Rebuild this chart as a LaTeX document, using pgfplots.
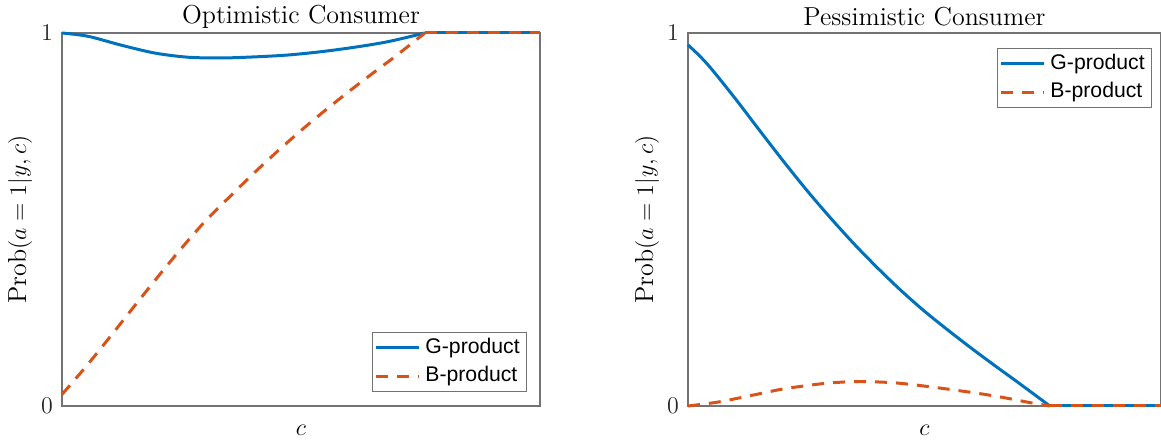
\documentclass[border=0pt]{standalone}
\usepackage{fontspec}
\usepackage{pgfplots}
\pgfplotsset{compat=1.18}
\newfontfamily\legendfont{Liberation Sans}
\definecolor{mblue}{rgb}{0,0.447,0.741}
\definecolor{morange}{rgb}{0.85,0.325,0.098}
\pgfplotsset{
  mystyle/.style={
    scale only axis,
    height=186.5pt,
    xmin=0, xmax=1, ymin=0, ymax=1,
    xtick=\empty, ytick={0,1},
    major tick length=0pt,
    clip=false,
    axis line style={black!55, line width=0.6pt},
    tick label style={font=\fontsize{12.5}{14}\selectfont, text=black!85},
    yticklabel style={xshift=-1pt},
    title style={at={(axis description cs:0.5,1)}, anchor=center, yshift=2pt, font=\fontsize{13}{15}\selectfont},
    xlabel style={at={(axis description cs:0.5,0)}, anchor=center, yshift=-12pt, font=\fontsize{13}{15}\selectfont},
    ylabel style={font=\fontsize{13}{15}\selectfont, anchor=center},
    xlabel={$c$},
    ylabel={$\mathrm{Prob}(a=1|y,c)$},
    legend cell align=left,
    legend image code/.code={\draw[#1] (1pt,0pt) -- (22.5pt,0pt);},
    legend style={
      font=\legendfont\fontsize{10.6}{12.5}\selectfont,
      draw=black!55, line width=0.5pt,
      inner xsep=1pt, inner ysep=0.5pt,
      nodes={inner xsep=2.4pt, inner ysep=1.5pt, text height=8.5pt, text depth=2.75pt},
      row sep=0pt,
    },
  },
  gline/.style={mblue, line width=1.5pt},
  bline/.style={morange, line width=1.5pt, dash pattern=on 6pt off 4.5pt},
}
\begin{document}
\begin{tikzpicture}
\path[use as bounding box] (0,0) rectangle (580.5pt,221pt);
% Left panel
\begin{axis}[mystyle,
  at={(31pt,18pt)}, anchor=south west, width=239pt,
  title={Optimistic Consumer},
  ylabel style={at={([xshift=-21pt]axis description cs:0,0.5)}},
  legend style={at={(axis description cs:1,0)}, anchor=south east, xshift=-6.5pt, yshift=7pt},
]
\addplot[gline, smooth] coordinates {
(0,1) (0.055,0.991) (0.125,0.967) (0.195,0.946) (0.264,0.935) (0.334,0.933)
(0.404,0.936) (0.473,0.941) (0.543,0.950) (0.613,0.962) (0.683,0.977) (0.759,1)
};
\addlegendentry{G-product}
\addplot[bline, smooth] coordinates {
(0,0.031) (0.05,0.1055) (0.1,0.1845) (0.15,0.2655) (0.2,0.3455) (0.25,0.423)
(0.3,0.496) (0.35,0.560) (0.4,0.6225) (0.45,0.682) (0.5,0.7385) (0.55,0.792)
(0.6,0.843) (0.65,0.892) (0.7,0.940) (0.759,1)
};
\addlegendentry{B-product}
\addplot[gline, forget plot] coordinates {(0.759,1) (1,1)};
\addplot[bline, forget plot] coordinates {(0.759,1) (1,1)};
\end{axis}
% Right panel
\begin{axis}[mystyle,
  at={(344pt,18pt)}, anchor=south west, width=236.5pt,
  title={Pessimistic Consumer},
  ylabel style={at={([xshift=-20.5pt]axis description cs:0,0.5)}},
  legend style={at={(axis description cs:1,1)}, anchor=north east, xshift=-4.5pt, yshift=-7.5pt},
]
\addplot[gline, smooth] coordinates {
(0,0.968) (0.025,0.938) (0.05,0.903) (0.1,0.824) (0.15,0.741) (0.2,0.659)
(0.25,0.580) (0.3,0.506) (0.35,0.436) (0.4,0.371) (0.45,0.310) (0.5,0.254)
(0.55,0.203) (0.6,0.154) (0.65,0.107) (0.7,0.061) (0.765,0)
};
\addlegendentry{G-product}
\addplot[bline, smooth] coordinates {
(0,0) (0.061,0.010) (0.106,0.021) (0.152,0.033) (0.198,0.045) (0.247,0.054)
(0.293,0.061) (0.342,0.065) (0.388,0.065) (0.438,0.062) (0.483,0.056) (0.533,0.048)
(0.579,0.040) (0.628,0.031) (0.674,0.021) (0.719,0.010) (0.765,0)
};
\addlegendentry{B-product}
\addplot[gline, forget plot] coordinates {(0.765,0) (1,0)};
\addplot[bline, forget plot] coordinates {(0.765,0) (1,0)};
\end{axis}
\end{tikzpicture}
\end{document}
